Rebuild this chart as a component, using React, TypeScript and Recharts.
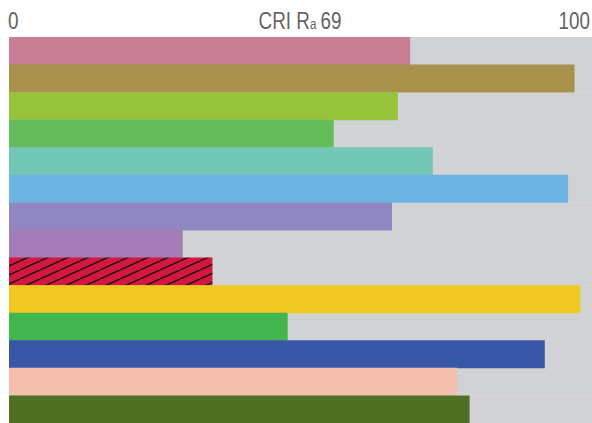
import React from 'react';
import { BarChart, Bar, XAxis, YAxis, Cell } from 'recharts';

// CRI special colour rendering indices R1..R14
const categories = ['R1', 'R2', 'R3', 'R4', 'R5', 'R6', 'R7', 'R8', 'R9', 'R10', 'R11', 'R12', 'R13', 'R14'];
const values = [68.8, 97.0, 66.7, 55.7, 72.7, 95.9, 65.7, 29.8, 34.9, 98.0, 47.8, 91.9, 76.9, 79.0];
const colors = [
    '#c97f93', '#a8924b', '#95c43b', '#63bb5a', '#73c8b5', '#6ab3e3', '#8f87c0',
    '#a37cb8', '#d4173e', '#f0ca22', '#42b54f', '#3757a6', '#f3c0ae', '#4f7023',
];
const hatchedIndex = 8;
const axisLabels = { min: '0', max: '100', title: 'CRI R', sub: 'a', ra: '69' };

const data = categories.map((name, i) => ({ name, value: values[i] }));

const font = '"Liberation Sans", Arial, sans-serif';
// narrow the regular sans to look like the condensed face of the original
const squeeze = 0.82;

const App: React.FC = () => {
    return (
        <div style={{ position: 'absolute', left: 0, top: 0, width: 592, height: 423, background: '#fff' }}>
            <svg width={0} height={0} style={{ position: 'absolute' }}>
                <defs>
                    <pattern id="hatch" patternUnits="userSpaceOnUse" width={20} height={9}>
                        <rect x={0} y={0} width={20} height={9} fill={colors[hatchedIndex]} />
                        <line x1={0} y1={9} x2={20} y2={0} stroke="#111" strokeWidth={1.4} />
                        <line x1={-20} y1={9} x2={0} y2={0} stroke="#111" strokeWidth={1.4} />
                        <line x1={20} y1={9} x2={40} y2={0} stroke="#111" strokeWidth={1.4} />
                    </pattern>
                </defs>
            </svg>
            <BarChart
                width={592}
                height={423}
                data={data}
                layout="vertical"
                margin={{ top: 37, right: 0, left: 9, bottom: 0 }}
                barCategoryGap={0}
            >
                <XAxis type="number" domain={[0, 100]} hide />
                <YAxis type="category" dataKey="name" hide width={0} />
                <Bar dataKey="value" background={{ fill: '#d1d2d4' }} isAnimationActive={false}>
                    {data.map((entry, index) => (
                        <Cell key={`cell-${index}`} fill={index === hatchedIndex ? 'url(#hatch)' : colors[index]} />
                    ))}
                </Bar>
            </BarChart>
            <svg width={592} height={36} style={{ position: 'absolute', left: 0, top: 0, pointerEvents: 'none' }}>
                <g fontFamily={font} fill="#636363" fontSize={23}>
                    <text transform={`translate(8,28.5) scale(${squeeze},1)`}>{axisLabels.min}</text>
                    <text transform={`translate(300,28.5) scale(${squeeze},1)`} textAnchor="middle">
                        {axisLabels.title}
                        <tspan fontSize={14}>{axisLabels.sub}</tspan>
                        <tspan dx={5}>{axisLabels.ra}</tspan>
                    </text>
                    <text transform={`translate(590,28.5) scale(${squeeze},1)`} textAnchor="end">{axisLabels.max}</text>
                </g>
            </svg>
        </div>
    );
};

export default App;
